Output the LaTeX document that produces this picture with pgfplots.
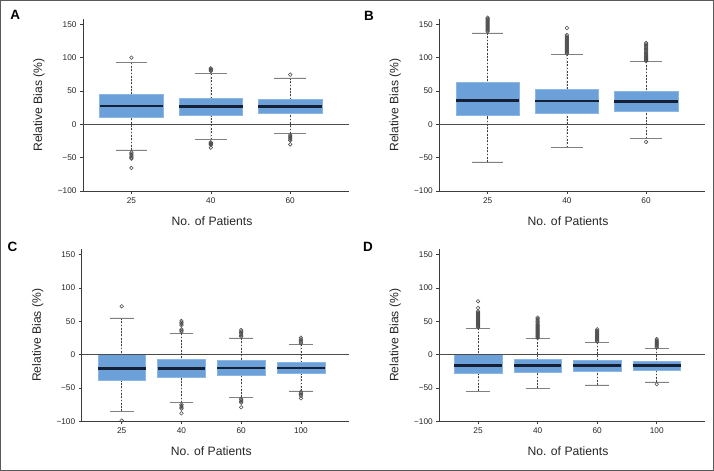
\documentclass[border=0pt]{standalone}
\usepackage{pgfplots}
\pgfplotsset{compat=1.18}
\usepgfplotslibrary{statistics}
\usepackage{fontspec}
\setmainfont{Liberation Sans}
\definecolor{boxblue}{RGB}{108,160,216}
\definecolor{boxedge}{RGB}{140,182,228}
\definecolor{mednavy}{RGB}{22,32,52}
\definecolor{axgray}{RGB}{60,60,60}
\newcommand{\labfont}{\fontsize{12.2}{14}\selectfont}
\pgfplotsset{
  bxs/.style={
    fill=boxblue, draw=boxedge, line width=0.5bp,
    boxplot/draw direction=y,
    boxplot/box extend=0.8,
    boxplot/whisker extend=0.4,
    boxplot/every median/.style={draw=mednavy, line width=2.6bp},
    boxplot/draw/lower whisker/.code={%
      \draw[black!75, line width=0.5bp, dash pattern=on 1.8bp off 1.5bp]
        (boxplot box cs:\pgfplotsboxplotvalue{lower whisker},0.5) --
        (boxplot box cs:\pgfplotsboxplotvalue{lower quartile},0.5);
      \draw[black!50, solid, line width=0.8bp]
        (boxplot whisker cs:\pgfplotsboxplotvalue{lower whisker},0) --
        (boxplot whisker cs:\pgfplotsboxplotvalue{lower whisker},1);
    },
    boxplot/draw/upper whisker/.code={%
      \draw[black!75, line width=0.5bp, dash pattern=on 1.8bp off 1.5bp]
        (boxplot box cs:\pgfplotsboxplotvalue{upper whisker},0.5) --
        (boxplot box cs:\pgfplotsboxplotvalue{upper quartile},0.5);
      \draw[black!50, solid, line width=0.8bp]
        (boxplot whisker cs:\pgfplotsboxplotvalue{upper whisker},0) --
        (boxplot whisker cs:\pgfplotsboxplotvalue{upper whisker},1);
    },
  },
  outl/.style={only marks, mark=o, mark size=1.8bp,
    mark options={draw=black!70, fill=none, line width=0.55bp, solid}},
  zline/.style={black!70, line width=1bp, mark=none},
  panel/.style={
    scale only axis,
    height=172bp,
    ymin=-100, ymax=158,
    axis lines*=left,
    axis line style={axgray, line width=0.8bp},
    tick style={axgray, line width=0.6bp},
    tick align=outside,
    major tick length=3bp,
    ytick={-100,-50,0,50,100,150},
    yticklabels={−100,−50,0,50,100,150},
    ticklabel style={font=\fontsize{8.3}{9}\selectfont, text=black!85},
    xlabel={\labfont No. of Patients},
    ylabel={\labfont Relative Bias (\%)},
    every axis y label/.style={at={(axis description cs:0,0.5)}, xshift=-44bp, rotate=90, anchor=center, text=black!85},
    every axis x label/.style={at={(axis description cs:0.5,0)}, yshift=-30bp, xshift=-4bp, anchor=center, text=black!85},
    clip=false,
  },
  three/.style={panel, width=266bp, xmin=0.39, xmax=3.74, xtick={1,2,3}, xticklabels={25,40,60}},
  four/.style={panel, width=267bp, xmin=0.33, xmax=4.80, xtick={1,2,3,4}, xticklabels={25,40,60,100}},
}
\begin{document}
\begin{tikzpicture}
\useasboundingbox (0bp,0bp) rectangle (714bp,471bp);
\draw[black!65, line width=0.8bp] (0.4bp,0.4bp) rectangle (713.6bp,470.6bp);

% ---------------- Panel A ----------------
\begin{axis}[three, at={(83bp,280bp)}, anchor=south west]
\addplot[bxs, boxplot prepared={draw position=1, lower whisker=-38.5, lower quartile=11, median=27.5, upper quartile=44.5, upper whisker=92.5}] coordinates {};
\addplot[bxs, boxplot prepared={draw position=2, lower whisker=-23, lower quartile=14, median=27, upper quartile=38.5, upper whisker=76}] coordinates {};
\addplot[bxs, boxplot prepared={draw position=3, lower whisker=-14, lower quartile=17, median=26.5, upper quartile=37.5, upper whisker=69.5}] coordinates {};
\addplot[outl] coordinates {(1,100) (1,-42) (1,-44) (1,-46) (1,-48) (1,-50) (1,-51.5) (1,-65.5)
  (2,80) (2,81.5) (2,83) (2,84) (2,-27) (2,-28) (2,-29) (2,-30) (2,-31) (2,-35)
  (3,74.5) (3,-16) (3,-17.5) (3,-19) (3,-20.5) (3,-22) (3,-24) (3,-30)};
\addplot[zline] coordinates {(0.39,0) (3.74,0)};
\end{axis}

% ---------------- Panel B ----------------
\begin{axis}[three, at={(439.3bp,280bp)}, anchor=south west, width=265.4bp]
\addplot[bxs, boxplot prepared={draw position=1, lower whisker=-56.5, lower quartile=13, median=36, upper quartile=63, upper whisker=137}] coordinates {};
\addplot[bxs, boxplot prepared={draw position=2, lower whisker=-34.5, lower quartile=17, median=35, upper quartile=52, upper whisker=105}] coordinates {};
\addplot[bxs, boxplot prepared={draw position=3, lower whisker=-21, lower quartile=20, median=34.5, upper quartile=49.5, upper whisker=94}] coordinates {};
\addplot[outl] coordinates {(1,139) (1,140.5) (1,142) (1,143.5) (1,145) (1,146.5) (1,148) (1,149.5) (1,151) (1,152.5) (1,154) (1,155.5) (1,157) (1,158.5) (1,160)
  (2,106) (2,107.5) (2,109) (2,110.5) (2,112) (2,113.5) (2,115) (2,116.5) (2,118) (2,119.5) (2,121) (2,122.5) (2,124) (2,125.5) (2,127) (2,128.5) (2,130) (2,132) (2,134) (2,144.5)
  (3,95) (3,96.5) (3,98) (3,99.5) (3,101) (3,102.5) (3,104) (3,106) (3,108) (3,110) (3,112) (3,114) (3,116) (3,118) (3,120) (3,122) (3,-26.5)};
\addplot[zline] coordinates {(0.39,0) (3.74,0)};
\end{axis}

% ---------------- Panel C ----------------
\begin{axis}[four, at={(81.7bp,49.7bp)}, anchor=south west]
\addplot[bxs, boxplot prepared={draw position=1, lower whisker=-85, lower quartile=-38, median=-21, upper quartile=0, upper whisker=55}] coordinates {};
\addplot[bxs, boxplot prepared={draw position=2, lower whisker=-72, lower quartile=-34, median=-21, upper quartile=-7, upper whisker=32}] coordinates {};
\addplot[bxs, boxplot prepared={draw position=3, lower whisker=-64, lower quartile=-31, median=-20, upper quartile=-9, upper whisker=25}] coordinates {};
\addplot[bxs, boxplot prepared={draw position=4, lower whisker=-54.5, lower quartile=-28.5, median=-20, upper quartile=-11, upper whisker=15.5}] coordinates {};
\addplot[outl] coordinates {(1,72.5) (1,-99)
  (2,34) (2,36) (2,38) (2,44) (2,46) (2,48) (2,50.5) (2,-75) (2,-77) (2,-79) (2,-81) (2,-88)
  (3,27) (3,29) (3,31) (3,33) (3,35) (3,37) (3,-66.5) (3,-68) (3,-70) (3,-72) (3,-79)
  (4,17) (4,19) (4,21) (4,23) (4,25.5) (4,-56) (4,-58) (4,-60) (4,-62) (4,-65.5)};
\addplot[zline] coordinates {(0.33,0) (4.80,0)};
\end{axis}

% ---------------- Panel D ----------------
\begin{axis}[four, at={(439.3bp,49.7bp)}, anchor=south west, width=265.4bp, xmin=0.35, xmax=4.805]
\addplot[bxs, boxplot prepared={draw position=1, lower whisker=-55, lower quartile=-28, median=-16, upper quartile=0, upper whisker=39.5}] coordinates {};
\addplot[bxs, boxplot prepared={draw position=2, lower whisker=-50.5, lower quartile=-26, median=-16, upper quartile=-6.5, upper whisker=24}] coordinates {};
\addplot[bxs, boxplot prepared={draw position=3, lower whisker=-45.5, lower quartile=-25, median=-16.5, upper quartile=-8, upper whisker=18.5}] coordinates {};
\addplot[bxs, boxplot prepared={draw position=4, lower whisker=-41, lower quartile=-23.5, median=-16.5, upper quartile=-10.5, upper whisker=9.5}] coordinates {};
\addplot[outl] coordinates {(1,41) (1,42.5) (1,44) (1,45.5) (1,47) (1,48.5) (1,50) (1,51.5) (1,53) (1,54.5) (1,56) (1,57.5) (1,59) (1,60.5) (1,62) (1,63.5) (1,65) (1,70) (1,80)
  (2,25) (2,26.5) (2,28) (2,29.5) (2,31) (2,32.5) (2,34) (2,35.5) (2,37) (2,38.5) (2,40) (2,41.5) (2,43) (2,44.5) (2,46) (2,48) (2,50) (2,52) (2,54) (2,55.5)
  (3,19.5) (3,21) (3,22.5) (3,24) (3,25.5) (3,27) (3,28.5) (3,30) (3,31.5) (3,33) (3,34.5) (3,36) (3,38)
  (4,11) (4,12.5) (4,14) (4,15.5) (4,17) (4,18.5) (4,20) (4,21.5) (4,23.5) (4,-44.5)};
\addplot[zline] coordinates {(0.35,0) (4.805,0)};
\end{axis}

% panel letters
\node[font=\fontsize{13.5}{15}\selectfont\bfseries] at (15.3bp,456bp) {A};
\node[font=\fontsize{13.5}{15}\selectfont\bfseries] at (369bp,455.5bp) {B};
\node[font=\fontsize{13.5}{15}\selectfont\bfseries] at (12.5bp,224.3bp) {C};
\node[font=\fontsize{13.5}{15}\selectfont\bfseries] at (368bp,224.3bp) {D};
\end{tikzpicture}
\end{document}
